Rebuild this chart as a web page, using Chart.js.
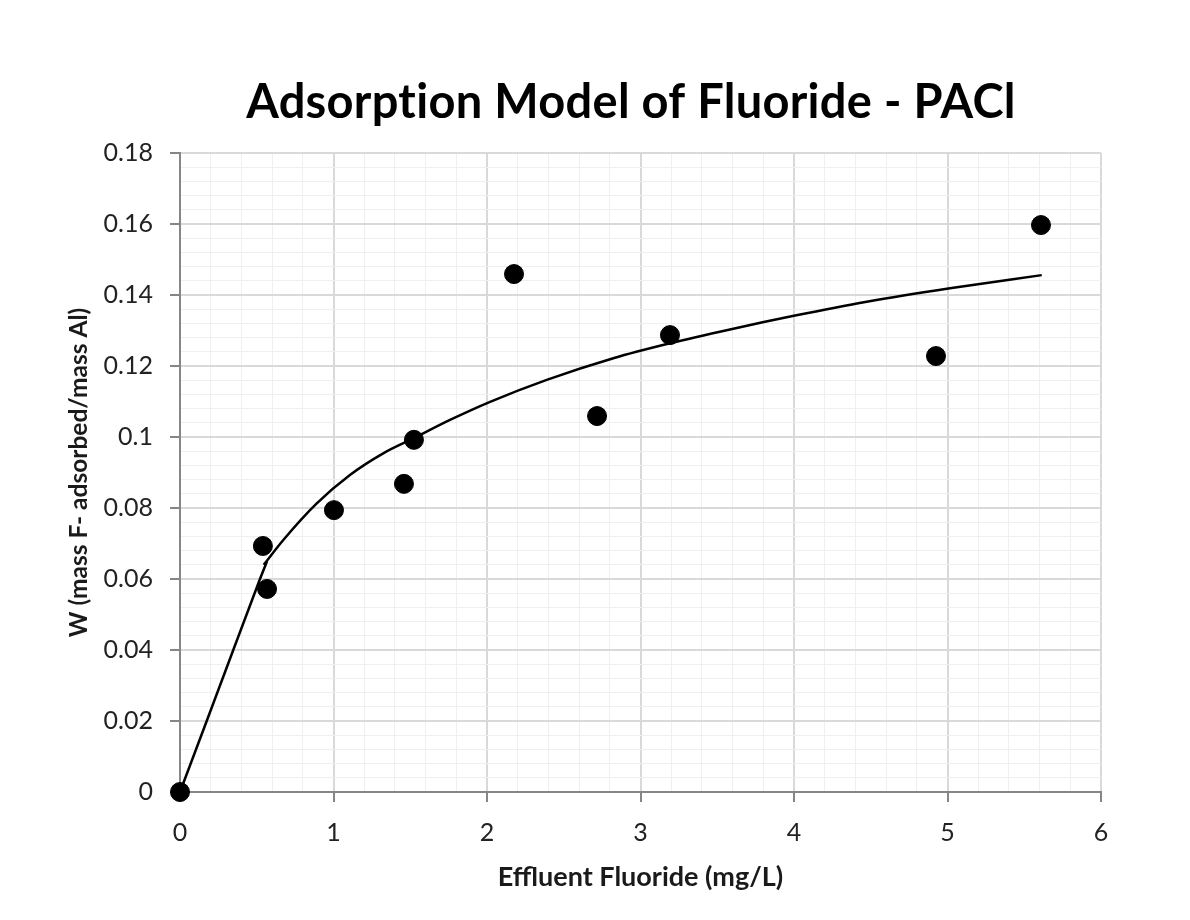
<!DOCTYPE html>
<html><head><meta charset="utf-8">
<script src="https://cdn.jsdelivr.net/npm/chart.js@4.4.1/dist/chart.umd.min.js"></script>
<style>html,body{margin:0;padding:0;background:#fff;}canvas{display:block;}</style>
</head><body>
<canvas id="c" width="1190" height="920"></canvas>
<script>
// Measured data (Effluent Fluoride mg/L, W)
const effluentF = [0, 0.54, 0.567, 1.003, 1.459, 1.524, 2.176, 2.717, 3.192, 4.925, 5.609];
const adsorbedW = [0, 0.0693, 0.0572, 0.0794, 0.0868, 0.0992, 0.1459, 0.1059, 0.1287, 0.1228, 0.1597];
// Model line: straight initial segment, then the fitted curve
const modelLinX = [0, 0.174, 0.347, 0.521, 0.567];
const modelLinW = [0, 0.020, 0.040, 0.060, 0.0650];
const modelX = [0.545, 0.673, 0.891, 1.107, 1.324, 1.520, 1.759, 2.020, 2.389, 2.823, 3.192, 3.583, 4.007, 4.474, 5.016, 5.614];
const modelW = [0.0640, 0.0710, 0.0813, 0.0893, 0.0954, 0.0996, 0.1048, 0.1099, 0.1161, 0.1222, 0.1264, 0.1303, 0.1342, 0.1381, 0.1419, 0.1456];
// Tick labels
const xTickLabels = ['0', '1', '2', '3', '4', '5', '6'];
const yTickLabels = ['0', '0.02', '0.04', '0.06', '0.08', '0.1', '0.12', '0.14', '0.16', '0.18'];
const titleText = 'Adsorption Model of Fluoride - PACl';
const xTitle = 'Effluent Fluoride (mg/L)';
const yTitle = 'W (mass F- adsorbed/mass Al)';

const X_MAJOR = 1, X_MINOR_PER = 5;
const Y_MAJOR = 0.02, Y_MINOR_PER = 5;
const FONT = 'Lato, "Open Sans", sans-serif';

function buildTicks(n, major, per) {
  const arr = [];
  for (let i = 0; i <= n * per; i++) arr.push({ value: +(i * major / per).toFixed(6) });
  return arr;
}
const isMajor = (ctx, per) => ctx.index % per === 0;

const gridOpts = (per) => ({
  color: (c) => isMajor(c, per) ? '#d9d9d9' : '#efefef',
  lineWidth: (c) => isMajor(c, per) ? 2 : 1,
  tickColor: (c) => isMajor(c, per) ? '#868686' : 'rgba(0,0,0,0)',
  tickWidth: 2,
  tickLength: 10,
  drawTicks: true
});

// Main title, centred over the chart as in the original figure
const titlePlugin = {
  id: 'mainTitle',
  afterDraw(chart) {
    const ctx = chart.ctx;
    ctx.save();
    ctx.font = 'bold 47px ' + FONT;
    ctx.fillStyle = '#000';
    ctx.textAlign = 'center';
    ctx.textBaseline = 'alphabetic';
    try { ctx.letterSpacing = '0.3px'; } catch (e) {}
    ctx.fillText(titleText, 631, 118);
    ctx.restore();
  }
};

new Chart(document.getElementById('c'), {
  type: 'scatter',
  data: {
    datasets: [
      {
        label: 'Data',
        data: effluentF.map((x, i) => ({ x: x, y: adsorbedW[i] })),
        backgroundColor: '#000',
        borderColor: '#000',
        pointRadius: 9.5,
        pointHoverRadius: 9.5,
        showLine: false,
        clip: false,
        order: 0
      },
      {
        label: 'Model (initial)',
        data: modelLinX.map((x, i) => ({ x: x, y: modelLinW[i] })),
        borderColor: '#000',
        borderWidth: 2.5,
        pointRadius: 0,
        showLine: true,
        tension: 0,
        clip: false,
        order: 1
      },
      {
        label: 'Model',
        data: modelX.map((x, i) => ({ x: x, y: modelW[i] })),
        borderColor: '#000',
        borderWidth: 2.5,
        pointRadius: 0,
        showLine: true,
        cubicInterpolationMode: 'monotone',
        clip: false,
        order: 1
      }
    ]
  },
  plugins: [titlePlugin],
  options: {
    responsive: false,
    animation: false,
    layout: { padding: { left: 0, right: 89, top: 153, bottom: 0 } },
    plugins: {
      legend: { display: false },
      tooltip: { enabled: false },
      title: { display: false }
    },
    scales: {
      x: {
        type: 'linear',
        min: 0, max: 6,
        afterBuildTicks: (s) => { s.ticks = buildTicks(6, X_MAJOR, X_MINOR_PER); },
        afterFit: (s) => { s.height = 128; },
        border: { color: '#868686', width: 2 },
        grid: gridOpts(X_MINOR_PER),
        ticks: {
          autoSkip: false,
          maxRotation: 0,
          padding: 16,
          color: '#222',
          font: { family: FONT, size: 25 },
          callback: (v, i) => i % X_MINOR_PER === 0 ? xTickLabels[i / X_MINOR_PER] : ''
        },
        title: {
          display: true,
          text: xTitle,
          color: '#1a1a1a',
          font: { family: FONT, size: 27, weight: 'bold' },
          padding: { top: 0, bottom: 27 }
        }
      },
      y: {
        type: 'linear',
        min: 0, max: 0.18,
        afterBuildTicks: (s) => { s.ticks = buildTicks(9, Y_MAJOR, Y_MINOR_PER); },
        afterFit: (s) => { s.width = 180; },
        border: { color: '#868686', width: 2 },
        grid: gridOpts(Y_MINOR_PER),
        ticks: {
          autoSkip: false,
          padding: 17,
          color: '#222',
          font: { family: FONT, size: 25 },
          callback: (v, i) => i % Y_MINOR_PER === 0 ? yTickLabels[i / Y_MINOR_PER] : ''
        },
        title: {
          display: true,
          text: yTitle,
          color: '#1a1a1a',
          font: { family: FONT, size: 24.5, weight: 'bold' },
          padding: { top: 64, bottom: 0 }
        }
      }
    }
  }
});
</script>
</body></html>
